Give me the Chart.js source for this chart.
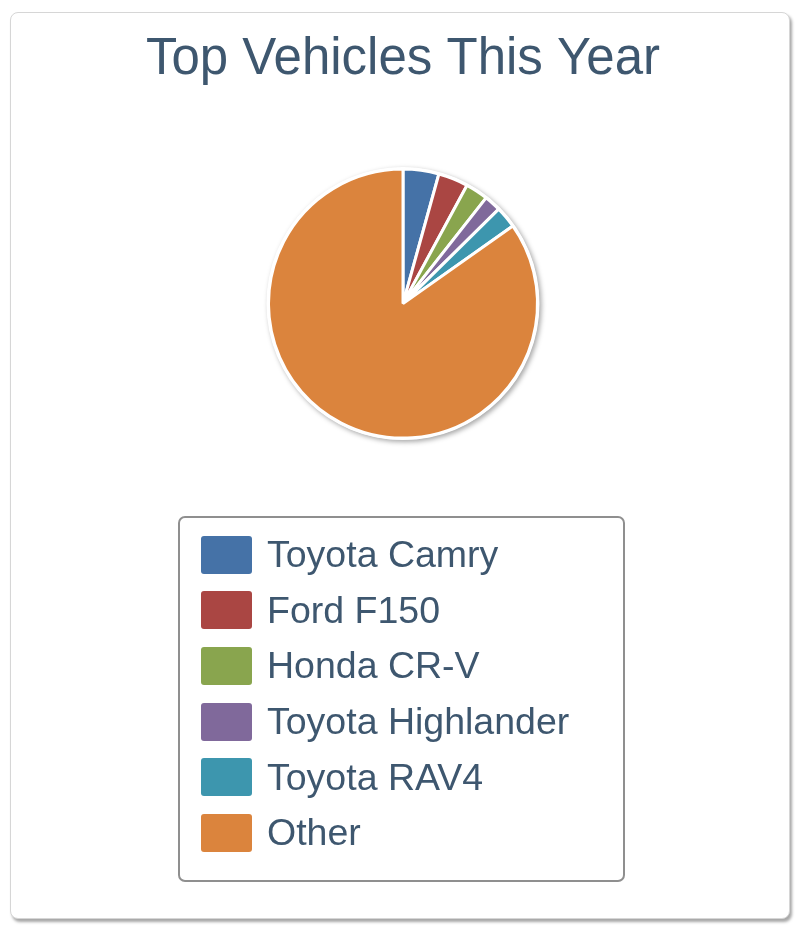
<!DOCTYPE html>
<html>
<head>
<meta charset="utf-8">
<script src="https://cdn.jsdelivr.net/npm/chart.js@4.4.1/dist/chart.umd.min.js"></script>
<style>
  html, body { margin: 0; padding: 0; background: #fff; }
  #page { position: relative; width: 800px; height: 931px; overflow: hidden; }
  #card {
    position: absolute; left: 10px; top: 12px; width: 778px; height: 905px;
    border: 1px solid #d6d6d6; border-radius: 8px; background: #fff;
    box-shadow: 2px 3px 3px rgba(0,0,0,0.35);
  }
  #chart { position: absolute; left: 0; top: 0; }
  #legend {
    position: absolute; left: 178px; top: 516px; width: 447px; height: 366px;
    box-sizing: border-box; border: 2px solid #8f8f8f; border-radius: 7px;
    font-family: Arial, "Liberation Sans", sans-serif; color: #3e576f;
  }
  #legend ul { list-style: none; margin: 0; padding: 9px 0 0 0; }
  #legend li { display: flex; align-items: center; height: 55.6px; font-size: 37.5px; }
  #legend .box { width: 51px; height: 38px; border-radius: 3px; margin-left: 21px; margin-right: 15px; flex: none; }
</style>
</head>
<body>
<div id="page">
  <div id="card"></div>
  <canvas id="chart" width="800" height="931"></canvas>
  <div id="legend"></div>
</div>
<script>
const titre = 'Top Vehicles This Year';
const vehicules = ['Toyota Camry', 'Ford F150', 'Honda CR-V', 'Toyota Highlander', 'Toyota RAV4', 'Other'];
const parts = [4.3, 3.6, 2.7, 2.0, 2.6, 84.8];
const couleurs = ['#4572a7', '#aa4643', '#89a54e', '#80699b', '#3d96ae', '#db843d'];

// ombre grise + anneau blanc sous le camembert
const ombrePie = {
  id: 'ombrePie',
  beforeDatasetsDraw(chart) {
    const arc = chart.getDatasetMeta(0).data[0];
    if (!arc) return;
    const ctx = chart.ctx;
    ctx.save();
    ctx.shadowColor = 'rgba(0,0,0,0.35)';
    ctx.shadowBlur = 5;
    ctx.shadowOffsetX = 2;
    ctx.shadowOffsetY = 2;
    ctx.fillStyle = '#fff';
    ctx.beginPath();
    ctx.arc(arc.x, arc.y, arc.outerRadius + 2, 0, Math.PI * 2);
    ctx.fill();
    ctx.restore();
  }
};

// légende HTML construite à partir des items de Chart.js
const legendeHtml = {
  id: 'legendeHtml',
  afterUpdate(chart) {
    const items = chart.options.plugins.legend.labels.generateLabels(chart);
    const ul = document.createElement('ul');
    items.forEach(item => {
      const li = document.createElement('li');
      const box = document.createElement('span');
      box.className = 'box';
      box.style.background = item.fillStyle;
      const txt = document.createElement('span');
      txt.textContent = item.text;
      li.appendChild(box);
      li.appendChild(txt);
      ul.appendChild(li);
    });
    const cont = document.getElementById('legend');
    cont.innerHTML = '';
    cont.appendChild(ul);
  }
};

new Chart(document.getElementById('chart'), {
  type: 'pie',
  data: {
    labels: vehicules,
    datasets: [{
      data: parts,
      backgroundColor: couleurs,
      borderColor: '#ffffff',
      borderWidth: 3,
      radius: 134.5
    }]
  },
  options: {
    responsive: false,
    animation: false,
    layout: { padding: { left: 6, right: 0, top: 0, bottom: 421 } },
    plugins: {
      legend: { display: false },
      tooltip: { enabled: false },
      title: {
        display: true,
        text: titre,
        color: '#3e576f',
        font: { family: 'Arial, "Liberation Sans", sans-serif', size: 51, weight: 'normal' },
        padding: { top: 29, bottom: 7 }
      }
    }
  },
  plugins: [ombrePie, legendeHtml]
});
</script>
</body>
</html>
